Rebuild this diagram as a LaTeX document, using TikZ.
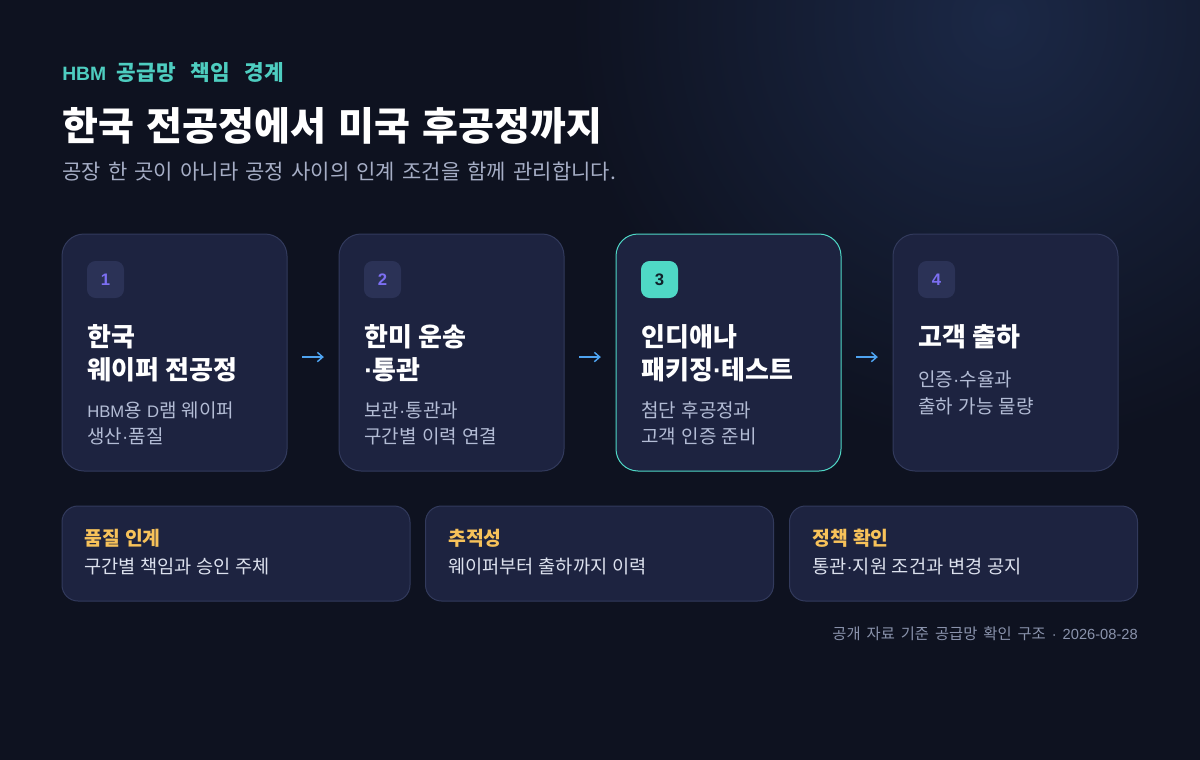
\documentclass[tikz,border=0pt]{standalone}
\usepackage{fontspec}
\setmainfont{Noto Sans CJK KR}
\newfontfamily\lat{Liberation Sans}
\usetikzlibrary{arrows.meta}
\newcommand\mdot{{\lat ·}}
\newcommand\latsm[1]{{\lat\fontsize{12.5pt}{15pt}\selectfont #1}}
\newcommand\wsp[1]{\spaceskip #1\relax}
\definecolor{bg}{HTML}{0E1220}
\definecolor{glow}{HTML}{1B2846}
\definecolor{cardfill}{HTML}{1D2340}
\definecolor{cardline}{HTML}{323A5C}
\definecolor{teal}{HTML}{4FD8C6}
\definecolor{tealtxt}{HTML}{4ECDC0}
\definecolor{badge}{HTML}{2B3256}
\definecolor{purple}{HTML}{7C6FF2}
\definecolor{arrowblue}{HTML}{4EA3F0}
\definecolor{desc}{HTML}{B3BCD5}
\definecolor{subt}{HTML}{A6AEC6}
\definecolor{yellowt}{HTML}{F7C25A}
\definecolor{boxdesc}{HTML}{DCE1EE}
\definecolor{foot}{HTML}{8A93AC}
\definecolor{dark}{HTML}{10202A}
\tikzset{
  card/.style={draw=cardline, line width=0.75pt, fill=cardfill, rounded corners=16.5pt,
    minimum width=168.75pt, minimum height=177.75pt, inner sep=0pt},
  hcard/.style={card, draw=teal},
  infobox/.style={draw=cardline, line width=0.75pt, fill=cardfill, rounded corners=12pt,
    minimum width=261pt, minimum height=71.25pt, inner sep=0pt},
  badgebox/.style={fill=badge, rounded corners=6.5pt, minimum width=27.75pt, minimum height=27.75pt,
    inner sep=0pt, text=purple, font={\lat\bfseries\fontsize{12.5pt}{14pt}\selectfont}},
  hbadge/.style={badgebox, fill=teal, text=dark},
  txt/.style={anchor=base west, inner sep=0pt},
  ctitle/.style={txt, text=white, font={\bfseries\fontsize{19.5pt}{22pt}\selectfont\wsp{5pt}}},
  cdesc/.style={txt, text=desc, font={\fontsize{14.25pt}{16pt}\selectfont\wsp{4pt}}},
  btitle/.style={txt, text=yellowt, font={\bfseries\fontsize{14.5pt}{16pt}\selectfont\wsp{4pt}}},
  bdesc/.style={txt, text=boxdesc, font={\fontsize{14pt}{16pt}\selectfont\wsp{3.5pt}}},
  arr/.style={draw=arrowblue, line width=1.1pt, -{Straight Barb[length=4pt,width=7pt]},
    shorten <=11pt, shorten >=11pt}
}
\begin{document}
\begin{tikzpicture}[x=0.75pt,y=-0.75pt]
\useasboundingbox (0,0) rectangle (1200,760);
\fill[bg] (0,0) rectangle (1200,760);
\begin{scope}
\clip (0,0) rectangle (1200,760);
\shade[inner color=glow, outer color=bg] (1000,20) circle (430);
\end{scope}

% header
\node[txt, text=tealtxt, font={\bfseries\fontsize{16pt}{18pt}\selectfont}] (hdr) at (62,80)
  {{\lat\bfseries\fontsize{14.5pt}{16pt}\selectfont HBM}\hspace{8pt}공급망\hspace{11pt}책임\hspace{11pt}경계};
\node[txt, text=white, font={\bfseries\fontsize{29.3pt}{32pt}\selectfont\wsp{9.2pt}}] (ttl) at (62,140)
  {한국 전공정에서 미국 후공정까지};
\node[txt, text=subt, font={\fontsize{15.75pt}{18pt}\selectfont\wsp{5.4pt}}] (sub) at (62,179)
  {공장 한 곳이 아니라 공정 사이의 인계 조건을 함께 관리합니다.};

% cards
\node[card] (c1) at (174.5,352.5) {};
\node[card] (c2) at (451.5,352.5) {};
\node[hcard] (c3) at (728.5,352.5) {};
\node[card] (c4) at (1005.5,352.5) {};

% badges
\node[badgebox] (b1) at (105.5,279.5) {1};
\node[badgebox] (b2) at (382.5,279.5) {2};
\node[hbadge] (b3) at (659.5,279.5) {3};
\node[badgebox] (b4) at (936.5,279.5) {4};

% card 1
\node[ctitle] (t1a) at (87,346) {한국};
\node[ctitle] (t1b) at (87,379) {웨이퍼 전공정};
\node[cdesc] (d1a) at (87,417) {\latsm{HBM}용 \latsm{D}램 웨이퍼};
\node[cdesc] (d1b) at (87,443) {생산\mdot 품질};
% card 2
\node[ctitle] (t2a) at (364,346) {한미 운송};
\node[ctitle] (t2b) at (364,379) {\mdot 통관};
\node[cdesc] (d2a) at (364,417) {보관\mdot 통관과};
\node[cdesc] (d2b) at (364,443) {구간별 이력 연결};
% card 3
\node[ctitle] (t3a) at (641,346) {인디애나};
\node[ctitle] (t3b) at (641,379) {패키징\mdot 테스트};
\node[cdesc] (d3a) at (641,417) {첨단 후공정과};
\node[cdesc] (d3b) at (641,443) {고객 인증 준비};
% card 4
\node[ctitle] (t4a) at (918,346) {고객 출하};
\node[cdesc] (d4a) at (918,386) {인증\mdot 수율과};
\node[cdesc] (d4b) at (918,413) {출하 가능 물량};

% arrows
\draw[arr] ([yshift=-3.4pt]c1.east) -- ([yshift=-3.4pt]c2.west);
\draw[arr] ([yshift=-3.4pt]c2.east) -- ([yshift=-3.4pt]c3.west);
\draw[arr] ([yshift=-3.4pt]c3.east) -- ([yshift=-3.4pt]c4.west);

% bottom boxes
\node[infobox] (i1) at (236,553.5) {};
\node[infobox] (i2) at (599.5,553.5) {};
\node[infobox] (i3) at (963.5,553.5) {};
\node[btitle] (i1t) at (84,545) {품질 인계};
\node[bdesc] (i1d) at (84,573) {구간별 책임과 승인 주체};
\node[btitle] (i2t) at (448,545) {추적성};
\node[bdesc] (i2d) at (448,573) {웨이퍼부터 출하까지 이력};
\node[btitle] (i3t) at (812,545) {정책 확인};
\node[bdesc] (i3d) at (812,573) {통관\mdot 지원 조건과 변경 공지};

% footer
\node[anchor=base east, inner sep=0pt, text=foot, font={\fontsize{11.5pt}{13pt}\selectfont\wsp{4.5pt}}] (ft) at (1138,639)
  {공개 자료 기준 공급망 확인 구조 {\lat\fontsize{11pt}{13pt}\selectfont · 2026-08-28}};
\end{tikzpicture}
\end{document}
